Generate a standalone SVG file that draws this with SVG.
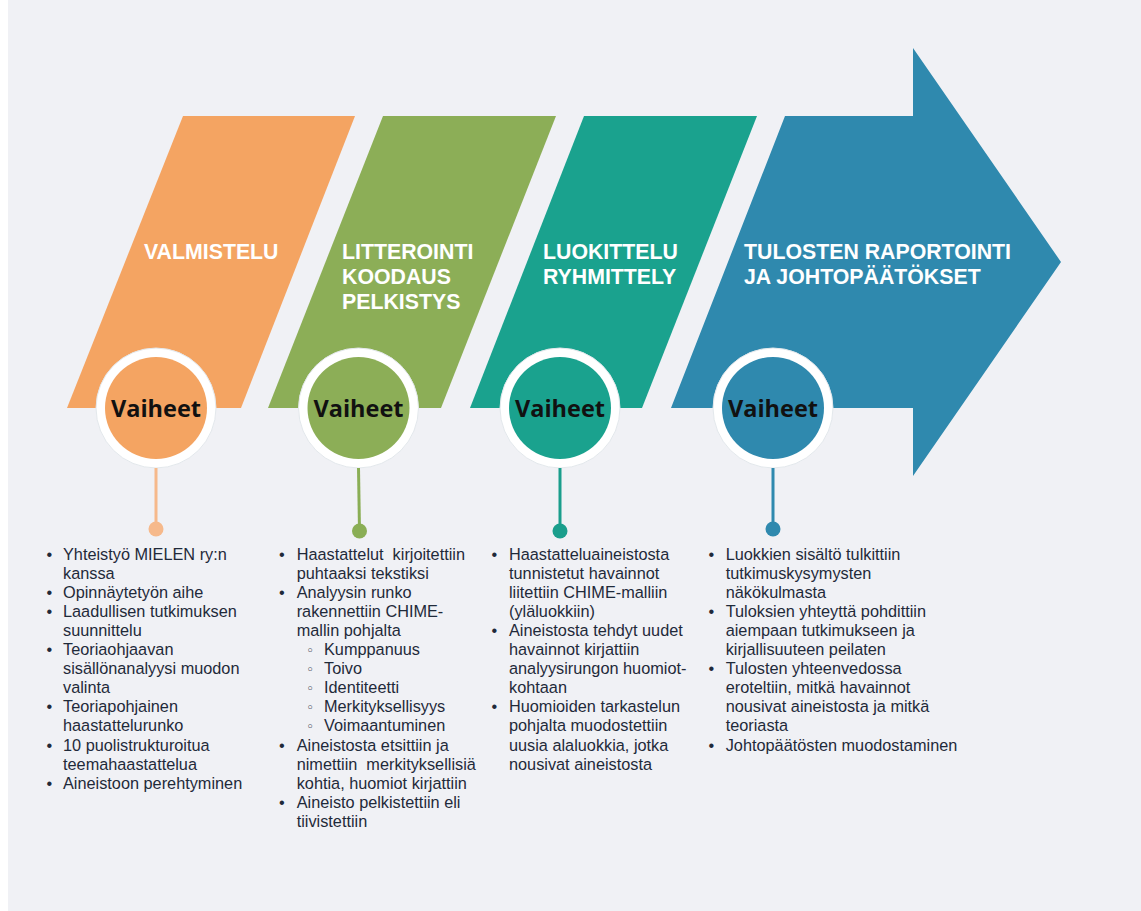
<svg xmlns="http://www.w3.org/2000/svg" width="1141" height="911" viewBox="0 0 1141 911">
<style>
.title{font-family:"Liberation Sans",Arial,sans-serif;font-weight:bold;font-size:21.3px;fill:#ffffff}
.vh{font-family:"Open Sans","Noto Sans",sans-serif;font-weight:bold;font-size:23.5px;fill:#111111;text-anchor:middle}
.li{font-family:"Liberation Sans",Arial,sans-serif;font-size:16.3px;fill:#1f2a3a}
.sub{font-family:"DejaVu Sans",sans-serif;font-size:13px;fill:#1f2a3a;text-anchor:middle}
.ring{fill:#ffffff;stroke:#e3e8ec;stroke-width:1}
</style>
<rect x="0" y="0" width="1141" height="911" fill="#ffffff"/>
<rect x="8" y="0" width="1133" height="911" fill="#f0f1f5"/>

<g id="phase-valmistelu">
<polygon points="183,116 355,116 241,408 67,408" fill="#f4a462"/>
<text class="title" x="144" y="259">VALMISTELU</text>
<circle class="ring" cx="156" cy="408" r="60"/>
<circle cx="156" cy="408" r="51" fill="#f4a462"/>
<text class="vh" x="156" y="417">Vaiheet</text>
</g>

<g id="phase-litterointi">
<polygon points="383,116 556,116 441,408 268,408" fill="#8cae57"/>
<text class="title" x="342" y="259">LITTEROINTI</text>
<text class="title" x="342" y="284">KOODAUS</text>
<text class="title" x="342" y="309">PELKISTYS</text>
<circle class="ring" cx="358.5" cy="408" r="60"/>
<circle cx="358.5" cy="408" r="51" fill="#8cae57"/>
<text class="vh" x="358.5" y="417">Vaiheet</text>
</g>

<g id="phase-luokittelu">
<polygon points="584,116 757,116 642,408 470,408" fill="#1aa28e"/>
<text class="title" x="543" y="259">LUOKITTELU</text>
<text class="title" x="543" y="284">RYHMITTELY</text>
<circle class="ring" cx="560" cy="408" r="60"/>
<circle cx="560" cy="408" r="51" fill="#1aa28e"/>
<text class="vh" x="560" y="417">Vaiheet</text>
</g>

<g id="phase-tulosten">
<polygon points="785,116 913,116 913,48 1061,262 913,476 913,408 671,408" fill="#2f89ae"/>
<text class="title" x="744" y="259">TULOSTEN RAPORTOINTI</text>
<text class="title" x="744" y="284">JA JOHTOPÄÄTÖKSET</text>
<circle class="ring" cx="773" cy="408" r="60"/>
<circle cx="773" cy="408" r="51" fill="#2f89ae"/>
<text class="vh" x="773" y="417">Vaiheet</text>
</g>

<g id="connectors">
<line x1="156" y1="468" x2="156" y2="529" stroke="#f6b98b" stroke-width="3"/>
<circle cx="156" cy="529" r="7.5" fill="#f6b98b"/>
<line x1="358.5" y1="468" x2="359.5" y2="531" stroke="#8aae55" stroke-width="3"/>
<circle cx="359.5" cy="531" r="7.5" fill="#8aae55"/>
<line x1="560" y1="468" x2="560" y2="531" stroke="#1a9e8c" stroke-width="3"/>
<circle cx="560" cy="531" r="7.5" fill="#1a9e8c"/>
<line x1="773" y1="468" x2="773" y2="529" stroke="#2f89ae" stroke-width="3"/>
<circle cx="773" cy="529" r="7.5" fill="#2f89ae"/>
</g>

<g id="list-valmistelu">
<text class="li" x="46.5" y="559.5">•</text>
<text class="li" x="63" y="559.5">Yhteistyö MIELEN ry:n</text>
<text class="li" x="63" y="578.6">kanssa</text>
<text class="li" x="46.5" y="597.7">•</text>
<text class="li" x="63" y="597.7">Opinnäytetyön aihe</text>
<text class="li" x="46.5" y="616.8">•</text>
<text class="li" x="63" y="616.8">Laadullisen tutkimuksen</text>
<text class="li" x="63" y="635.9">suunnittelu</text>
<text class="li" x="46.5" y="655">•</text>
<text class="li" x="63" y="655">Teoriaohjaavan</text>
<text class="li" x="63" y="674.1">sisällönanalyysi muodon</text>
<text class="li" x="63" y="693.2">valinta</text>
<text class="li" x="46.5" y="712.3">•</text>
<text class="li" x="63" y="712.3">Teoriapohjainen</text>
<text class="li" x="63" y="731.4">haastattelurunko</text>
<text class="li" x="46.5" y="750.5">•</text>
<text class="li" x="63" y="750.5">10 puolistrukturoitua</text>
<text class="li" x="63" y="769.6">teemahaastattelua</text>
<text class="li" x="46.5" y="788.7">•</text>
<text class="li" x="63" y="788.7">Aineistoon perehtyminen</text>
</g>

<g id="list-litterointi">
<text class="li" x="279" y="559.5">•</text>
<text class="li" x="296.7" y="559.5" xml:space="preserve">Haastattelut  kirjoitettiin</text>
<text class="li" x="296.7" y="578.6">puhtaaksi tekstiksi</text>
<text class="li" x="279" y="597.7">•</text>
<text class="li" x="296.7" y="597.7">Analyysin runko</text>
<text class="li" x="296.7" y="616.8">rakennettiin CHIME-</text>
<text class="li" x="296.7" y="635.9">mallin pohjalta</text>
<text class="sub" x="310" y="655">◦</text>
<text class="li" x="324" y="655">Kumppanuus</text>
<text class="sub" x="310" y="674.1">◦</text>
<text class="li" x="324" y="674.1">Toivo</text>
<text class="sub" x="310" y="693.2">◦</text>
<text class="li" x="324" y="693.2">Identiteetti</text>
<text class="sub" x="310" y="712.3">◦</text>
<text class="li" x="324" y="712.3">Merkityksellisyys</text>
<text class="sub" x="310" y="731.4">◦</text>
<text class="li" x="324" y="731.4">Voimaantuminen</text>
<text class="li" x="279" y="750.5">•</text>
<text class="li" x="296.7" y="750.5">Aineistosta etsittiin ja</text>
<text class="li" x="296.7" y="769.6" xml:space="preserve">nimettiin  merkityksellisiä</text>
<text class="li" x="296.7" y="788.7">kohtia, huomiot kirjattiin</text>
<text class="li" x="279" y="807.8">•</text>
<text class="li" x="296.7" y="807.8">Aineisto pelkistettiin eli</text>
<text class="li" x="296.7" y="826.9">tiivistettiin</text>
</g>

<g id="list-luokittelu">
<text class="li" x="491.5" y="559.5">•</text>
<text class="li" x="509" y="559.5">Haastatteluaineistosta</text>
<text class="li" x="509" y="578.6">tunnistetut havainnot</text>
<text class="li" x="509" y="597.7">liitettiin CHIME-malliin</text>
<text class="li" x="509" y="616.8">(yläluokkiin)</text>
<text class="li" x="491.5" y="635.9">•</text>
<text class="li" x="509" y="635.9">Aineistosta tehdyt uudet</text>
<text class="li" x="509" y="655">havainnot kirjattiin</text>
<text class="li" x="509" y="674.1">analyysirungon huomiot-</text>
<text class="li" x="509" y="693.2">kohtaan</text>
<text class="li" x="491.5" y="712.3">•</text>
<text class="li" x="509" y="712.3">Huomioiden tarkastelun</text>
<text class="li" x="509" y="731.4">pohjalta muodostettiin</text>
<text class="li" x="509" y="750.5">uusia alaluokkia, jotka</text>
<text class="li" x="509" y="769.6">nousivat aineistosta</text>
</g>

<g id="list-tulosten">
<text class="li" x="708.5" y="559.5">•</text>
<text class="li" x="725.7" y="559.5">Luokkien sisältö tulkittiin</text>
<text class="li" x="725.7" y="578.6">tutkimuskysymysten</text>
<text class="li" x="725.7" y="597.7">näkökulmasta</text>
<text class="li" x="708.5" y="616.8">•</text>
<text class="li" x="725.7" y="616.8">Tuloksien yhteyttä pohdittiin</text>
<text class="li" x="725.7" y="635.9">aiempaan tutkimukseen ja</text>
<text class="li" x="725.7" y="655">kirjallisuuteen peilaten</text>
<text class="li" x="708.5" y="674.1">•</text>
<text class="li" x="725.7" y="674.1">Tulosten yhteenvedossa</text>
<text class="li" x="725.7" y="693.2">eroteltiin, mitkä havainnot</text>
<text class="li" x="725.7" y="712.3">nousivat aineistosta ja mitkä</text>
<text class="li" x="725.7" y="731.4">teoriasta</text>
<text class="li" x="708.5" y="750.5">•</text>
<text class="li" x="725.7" y="750.5">Johtopäätösten muodostaminen</text>
</g>
</svg>
